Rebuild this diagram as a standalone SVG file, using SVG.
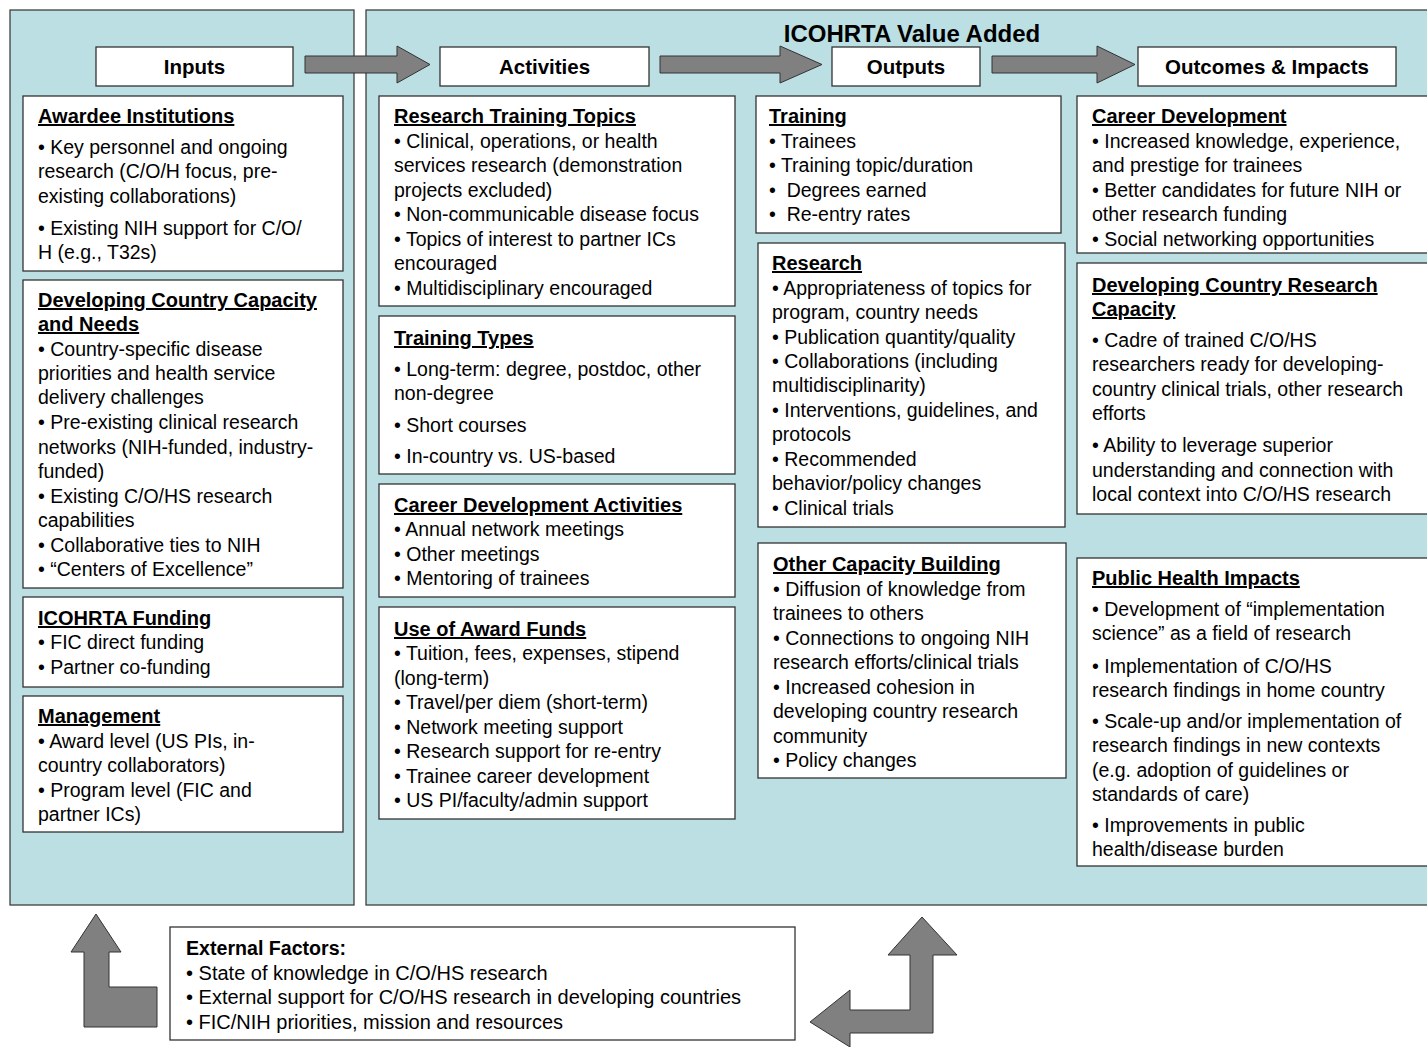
<svg xmlns="http://www.w3.org/2000/svg" width="1427" height="1047" viewBox="0 0 1427 1047">
<style>
.panel{fill:#BBDFE2;stroke:#404040;stroke-width:1.3}
.box{fill:#FFFFFF;stroke:#333333;stroke-width:1.3}
.arrow{fill:#808080;stroke:#333333;stroke-width:1}
text{font-family:"Liberation Sans",Arial,sans-serif;fill:#000}
.t{font-size:19.5px}
.h{font-size:20px;font-weight:bold;text-decoration:underline}
.hd{font-size:20.5px;font-weight:bold;text-anchor:middle}
.ttl{font-size:24px;font-weight:bold;text-anchor:middle}
.e{font-size:20px}
.eh{font-size:19.6px;font-weight:bold}
</style>
<rect width="1427" height="1047" fill="#FFFFFF"/>
<g id="panels">
<rect class="panel" x="10" y="10" width="344" height="895"/>
<rect class="panel" x="366" y="10" width="1070" height="895"/>
<text class="ttl" x="912" y="42">ICOHRTA Value Added</text>
</g>
<g id="connectors">
<polygon class="arrow" points="305,56 397,56 397,46 430,64.5 397,83 397,73 305,73"/>
<polygon class="arrow" points="660,56 780,56 780,46 822,64.5 780,83 780,73 660,73"/>
<polygon class="arrow" points="992,56 1097,56 1097,46 1135,64.5 1097,83 1097,73 992,73"/>
<polygon class="arrow" points="96,914 121,952 109,952 109,987 157,987 157,1027 84,1027 84,952 71,952"/>
<polygon class="arrow" points="922,917 957,955 933,955 933,1033 850,1033 850,1047 810,1022 850,990 850,1010 910,1010 910,955 888,955"/>
</g>
<g id="hdr-inputs"><rect class="box" x="96" y="47" width="197" height="39"/><text class="hd" x="194.5" y="74">Inputs</text></g>
<g id="hdr-activities"><rect class="box" x="440" y="47" width="209" height="39"/><text class="hd" x="544.5" y="74">Activities</text></g>
<g id="hdr-outputs"><rect class="box" x="832" y="47" width="148" height="39"/><text class="hd" x="906" y="74">Outputs</text></g>
<g id="hdr-outcomes"><rect class="box" x="1138" y="47" width="258" height="39"/><text class="hd" x="1267" y="74">Outcomes &amp; Impacts</text></g>

<g id="awardee">
<rect class="box" x="23" y="96" width="320" height="175"/>
<text class="h" x="38" y="123">Awardee Institutions</text>
<text class="t" x="38" y="154">• Key personnel and ongoing</text>
<text class="t" x="38" y="178">research (C/O/H focus, pre-</text>
<text class="t" x="38" y="203">existing collaborations)</text>
<text class="t" x="38" y="235">• Existing NIH support for C/O/</text>
<text class="t" x="38" y="259">H (e.g., T32s)</text>
</g>
<g id="dev-capacity">
<rect class="box" x="23" y="280" width="320" height="308"/>
<text class="h" x="38" y="307">Developing Country Capacity </text>
<text class="h" x="38" y="331">and Needs</text>
<text class="t" x="38" y="356">• Country-specific disease</text>
<text class="t" x="38" y="380">priorities and health service</text>
<text class="t" x="38" y="404">delivery challenges</text>
<text class="t" x="38" y="429">• Pre-existing clinical research</text>
<text class="t" x="38" y="454">networks (NIH-funded, industry-</text>
<text class="t" x="38" y="478">funded)</text>
<text class="t" x="38" y="503">• Existing C/O/HS research</text>
<text class="t" x="38" y="527">capabilities</text>
<text class="t" x="38" y="552">• Collaborative ties to NIH</text>
<text class="t" x="38" y="576">• “Centers of Excellence”</text>
</g>
<g id="funding">
<rect class="box" x="23" y="597" width="320" height="90"/>
<text class="h" x="38" y="625">ICOHRTA Funding</text>
<text class="t" x="38" y="649">• FIC direct funding</text>
<text class="t" x="38" y="674">• Partner co-funding</text>
</g>
<g id="management">
<rect class="box" x="23" y="696" width="320" height="136"/>
<text class="h" x="38" y="723">Management </text>
<text class="t" x="38" y="748">• Award level (US PIs, in-</text>
<text class="t" x="38" y="772">country collaborators)</text>
<text class="t" x="38" y="797">• Program level (FIC and</text>
<text class="t" x="38" y="821">partner ICs)</text>
</g>

<g id="topics">
<rect class="box" x="379" y="96" width="356" height="210"/>
<text class="h" x="394" y="123">Research Training Topics</text>
<text class="t" x="394" y="148">• Clinical, operations, or health</text>
<text class="t" x="394" y="172">services research (demonstration</text>
<text class="t" x="394" y="197">projects excluded)</text>
<text class="t" x="394" y="221">• Non-communicable disease focus</text>
<text class="t" x="394" y="246">• Topics of interest to partner ICs</text>
<text class="t" x="394" y="270">encouraged</text>
<text class="t" x="394" y="295">• Multidisciplinary encouraged</text>
</g>
<g id="types">
<rect class="box" x="379" y="316" width="356" height="158"/>
<text class="h" x="394" y="345">Training Types </text>
<text class="t" x="394" y="376">• Long-term: degree, postdoc, other</text>
<text class="t" x="394" y="400">non-degree</text>
<text class="t" x="394" y="432">• Short courses</text>
<text class="t" x="394" y="463">• In-country vs. US-based</text>
</g>
<g id="career-act">
<rect class="box" x="379" y="484" width="356" height="113"/>
<text class="h" x="394" y="512">Career Development Activities</text>
<text class="t" x="394" y="536">• Annual network meetings</text>
<text class="t" x="394" y="561">• Other meetings</text>
<text class="t" x="394" y="585">• Mentoring of trainees</text>
</g>
<g id="funds">
<rect class="box" x="379" y="607" width="356" height="212"/>
<text class="h" x="394" y="636">Use of Award Funds</text>
<text class="t" x="394" y="660">• Tuition, fees, expenses, stipend</text>
<text class="t" x="394" y="685">(long-term)</text>
<text class="t" x="394" y="709">• Travel/per diem (short-term)</text>
<text class="t" x="394" y="734">• Network meeting support</text>
<text class="t" x="394" y="758">• Research support for re-entry</text>
<text class="t" x="394" y="783">• Trainee career development</text>
<text class="t" x="394" y="807">• US PI/faculty/admin support</text>
</g>

<g id="training">
<rect class="box" x="756" y="96" width="305" height="137"/>
<text class="h" x="769" y="123">Training</text>
<text class="t" x="769" y="148">• Trainees</text>
<text class="t" x="769" y="172">• Training topic/duration</text>
<text class="t" x="769" y="197" xml:space="preserve">•  Degrees earned</text>
<text class="t" x="769" y="221" xml:space="preserve">•  Re-entry rates</text>
</g>
<g id="research">
<rect class="box" x="758" y="243" width="307" height="284"/>
<text class="h" x="772" y="270">Research</text>
<text class="t" x="772" y="295">• Appropriateness of topics for</text>
<text class="t" x="772" y="319">program, country needs</text>
<text class="t" x="772" y="344">• Publication quantity/quality</text>
<text class="t" x="772" y="368">• Collaborations (including</text>
<text class="t" x="772" y="392">multidisciplinarity)</text>
<text class="t" x="772" y="417">• Interventions, guidelines, and</text>
<text class="t" x="772" y="441">protocols</text>
<text class="t" x="772" y="466">• Recommended</text>
<text class="t" x="772" y="490">behavior/policy changes</text>
<text class="t" x="772" y="515">• Clinical trials</text>
</g>
<g id="other-capacity">
<rect class="box" x="758" y="543" width="308" height="235"/>
<text class="h" x="773" y="571">Other Capacity Building</text>
<text class="t" x="773" y="596">• Diffusion of knowledge from</text>
<text class="t" x="773" y="620">trainees to others</text>
<text class="t" x="773" y="645">• Connections to ongoing NIH</text>
<text class="t" x="773" y="669">research efforts/clinical trials</text>
<text class="t" x="773" y="694">• Increased cohesion in</text>
<text class="t" x="773" y="718">developing country research</text>
<text class="t" x="773" y="743">community</text>
<text class="t" x="773" y="767">• Policy changes</text>
</g>

<g id="career-dev">
<rect class="box" x="1077" y="96" width="360" height="157"/>
<text class="h" x="1092" y="123">Career Development </text>
<text class="t" x="1092" y="148">• Increased knowledge, experience,</text>
<text class="t" x="1092" y="172">and prestige for trainees</text>
<text class="t" x="1092" y="197">• Better candidates for future NIH or</text>
<text class="t" x="1092" y="221">other research funding</text>
<text class="t" x="1092" y="246">• Social networking opportunities</text>
</g>
<g id="dev-research">
<rect class="box" x="1077" y="263" width="360" height="251"/>
<text class="h" x="1092" y="292">Developing Country Research </text>
<text class="h" x="1092" y="316">Capacity</text>
<text class="t" x="1092" y="347">• Cadre of trained C/O/HS</text>
<text class="t" x="1092" y="371">researchers ready for developing-</text>
<text class="t" x="1092" y="396">country clinical trials, other research</text>
<text class="t" x="1092" y="420">efforts</text>
<text class="t" x="1092" y="452">• Ability to leverage superior</text>
<text class="t" x="1092" y="477">understanding and connection with</text>
<text class="t" x="1092" y="501">local context into C/O/HS research</text>
</g>
<g id="public-health">
<rect class="box" x="1077" y="558" width="360" height="308"/>
<text class="h" x="1092" y="585">Public Health Impacts</text>
<text class="t" x="1092" y="616">• Development of “implementation</text>
<text class="t" x="1092" y="640">science” as a field of research</text>
<text class="t" x="1092" y="673">• Implementation of C/O/HS</text>
<text class="t" x="1092" y="697">research findings in home country</text>
<text class="t" x="1092" y="728">• Scale-up and/or implementation of</text>
<text class="t" x="1092" y="752">research findings in new contexts</text>
<text class="t" x="1092" y="777">(e.g. adoption of guidelines or</text>
<text class="t" x="1092" y="801">standards of care)</text>
<text class="t" x="1092" y="832">• Improvements in public</text>
<text class="t" x="1092" y="856">health/disease burden</text>
</g>

<g id="external">
<rect class="box" x="170" y="927" width="625" height="113"/>
<text class="eh" x="186" y="955">External Factors:</text>
<text class="e" x="186" y="980">• State of knowledge in C/O/HS research</text>
<text class="e" x="186" y="1004">• External support for C/O/HS research in developing countries</text>
<text class="e" x="186" y="1029">• FIC/NIH priorities, mission and resources</text>
</g>
</svg>
